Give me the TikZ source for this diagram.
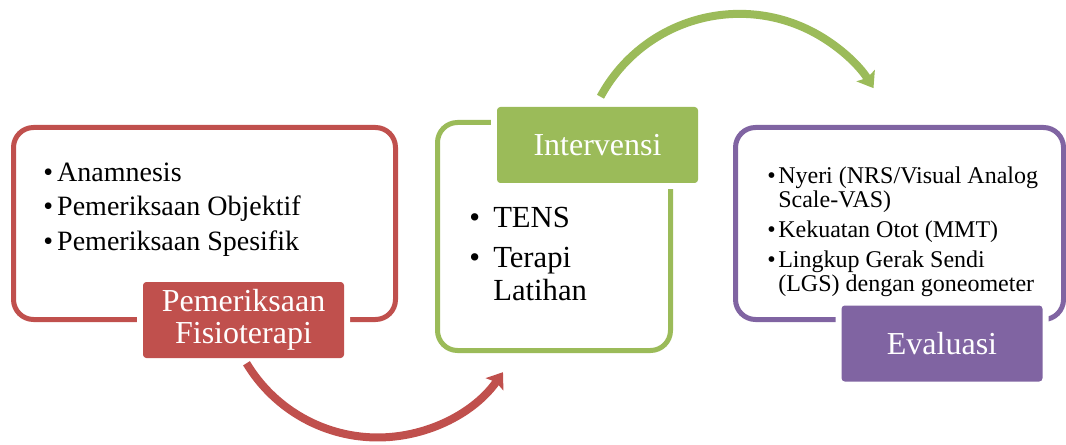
\documentclass[tikz,border=0pt]{standalone}
\usepackage{fontspec}
\setmainfont{Liberation Serif}
\usepackage{xcolor}
\usetikzlibrary{arrows.meta,positioning,calc}

\definecolor{fisred}{HTML}{C0504D}
\definecolor{intgreen}{HTML}{9BBB59}
\definecolor{evpurple}{HTML}{8064A2}

\tikzset{
    stageframe/.style={draw=#1, line width=3.75pt, rounded corners=15pt, inner sep=0pt},
    stagetitle/.style={fill=#1, text=white, rounded corners=2.5pt, inner sep=0pt, minimum width=150.75pt, minimum height=57pt, align=center, font=\fontsize{24}{24}\selectfont, preaction={draw=white, line width=9pt}},
    stagelist/.style={anchor=north west, inner sep=0pt, align=left},
    flow/.style={draw=#1, line width=6pt, -{Stealth[length=11pt, width=16pt, inset=2pt]}},
}
\newcommand{\bul}[1]{\makebox[#1][l]{\textbullet}}

\begin{document}
\begin{tikzpicture}[x=0.75pt, y=0.75pt]
    \useasboundingbox (0,0) rectangle (1066,-445);

    % frames round each stage
    \node[stageframe=fisred, minimum width=286.5pt, minimum height=144pt] (fisio) at (204.5,-223.5) {};
    \node[stageframe=intgreen, minimum width=174.75pt, minimum height=171pt] (interv) at (554,-236.5) {};
    \node[stageframe=evpurple, minimum width=246pt, minimum height=144pt] (eval) at (899.5,-223.5) {};

    % title boxes, they cut the frames
    \node[stagetitle=fisred] (fisiobox) at (243.5,-320) {Pemeriksaan\\Fisioterapi};
    \node[stagetitle=intgreen] (intervbox) at (597.5,-145) {Intervensi};
    \node[stagetitle=evpurple] (evalbox) at (942,-343.5) {Evaluasi};

    % contents
    \node[stagelist, font=\fontsize{21}{26}\selectfont] (fisiolist) at (43,-162.5) {\bul{10.5pt}Anamnesis\\ \bul{10.5pt}Pemeriksaan Objektif\\ \bul{10.5pt}Pemeriksaan Spesifik};
    \node[stagelist, font=\fontsize{23}{24.75}\selectfont] (intervlist) at (469,-206.7) {\bul{18pt}TENS\\[5.25pt] \bul{18pt}Terapi\\ \hspace*{18pt}Latihan};
    \node[stagelist, font=\fontsize{18}{18}\selectfont] (evallist) at (767,-166.3) {\bul{8.25pt}Nyeri (NRS/Visual Analog\\ \hspace*{8.25pt}Scale-VAS)\\[4.5pt] \bul{8.25pt}Kekuatan Otot (MMT)\\[4.5pt] \bul{8.25pt}Lingkup Gerak Sendi\\ \hspace*{8.25pt}(LGS) dengan goneometer};

    % curved arrows between the stages
    \coordinate (fisiotail) at ([shift={(3,-5)}]fisiobox.south);
    \coordinate (intervtail) at ([shift={(3,10)}]intervbox.north);
    \draw[flow=fisred] (fisiotail) arc[start angle=211, end angle=325, radius=153];     % to Intervensi
    \draw[flow=intgreen] (intervtail) arc[start angle=151.6, end angle=32, radius=158]; % to Evaluasi
\end{tikzpicture}
\end{document}
